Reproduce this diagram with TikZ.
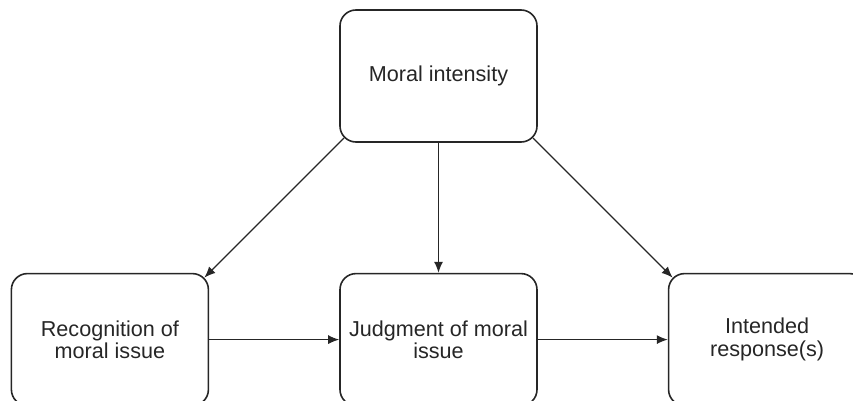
\documentclass[tikz,border=0pt]{standalone}
\usepackage{fontspec}
\setmainfont{Liberation Sans}
\usetikzlibrary{positioning,arrows.meta}

\begin{document}
\begin{tikzpicture}[
  x=0.5pt,y=-0.5pt, % one unit is one pixel of the original
  ->,>={Latex[length=5.5pt,width=4.5pt]}, % defines the style of the arrows
  node distance=65pt, % defines the space between the boxes
  stage node/.style={rectangle,rounded corners=8pt,draw=black!85,line width=0.8pt,
    minimum width=98.5pt,minimum height=66pt,align=center,text=black!85,
    font=\fontsize{10.8}{11.2}\selectfont} % style of the boxes
  ]
  \useasboundingbox (0,0) rectangle (853,401);
  \clip (0,0) rectangle (853,401);

  \node[stage node] (MI) at (438.5,76) {Moral intensity};
  \node[stage node] (JM) [below=of MI] {Judgment of moral\\issue};
  \node[stage node] (RM) [left=of JM] {Recognition of\\moral issue};
  \node[stage node] (IR) [right=of JM] {Intended\\response(s)};

  \path[every edge/.append style={draw=black!85,line width=0.6pt}]
    ([xshift=2.4pt,yshift=2.4pt]MI.south west) edge ([xshift=-2.4pt,yshift=-2.4pt]RM.north east)
    (MI) edge (JM)
    ([xshift=-2.4pt,yshift=2.4pt]MI.south east) edge ([xshift=2.4pt,yshift=-2.4pt]IR.north west)
    (RM) edge (JM)
    (JM) edge (IR);
\end{tikzpicture}
\end{document}
